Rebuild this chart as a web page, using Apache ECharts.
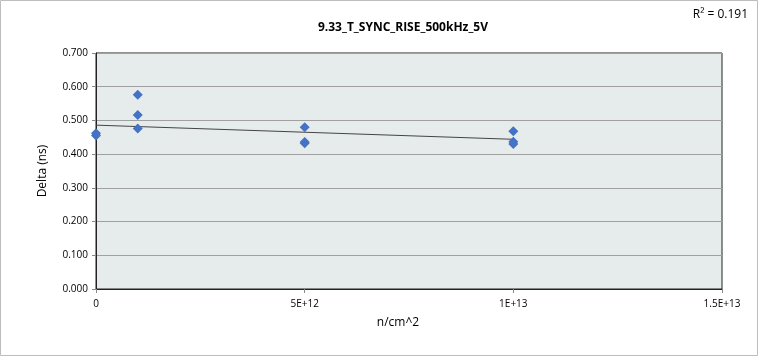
<!DOCTYPE html>
<html><head><meta charset="utf-8">
<script src="https://cdn.jsdelivr.net/npm/echarts@6/dist/echarts.min.js"></script>
<style>html,body{margin:0;padding:0;background:#fff}#c{width:759px;height:359px}</style>
</head><body><div id="c"></div>
<script>
const xValues = [0, 0, 1e12, 1e12, 1e12, 5e12, 5e12, 5e12, 1e13, 1e13, 1e13];
const yValues = [0.455, 0.462, 0.576, 0.516, 0.476, 0.480, 0.436, 0.432, 0.468, 0.437, 0.430];
const trendX = [0, 1e13];
const trendY = [0.486, 0.444];
const xTickLabels = {"0": "0", "5000000000000": "5E+12", "10000000000000": "1E+13", "15000000000000": "1.5E+13"};
const yTicks = [0, 0.1, 0.2, 0.3, 0.4, 0.5, 0.6, 0.7];
const titleText = "9.33_T_SYNC_RISE_500kHz_5V";
const r2Text = "R² = 0.191";

const font = "'Open Sans', 'Noto Sans', sans-serif";
const chart = echarts.init(document.getElementById('c'));
chart.setOption({
  animation: false,
  backgroundColor: '#fff',
  title: [
    {text: titleText, left: 398, top: 17, textAlign: 'center',
     textStyle: {fontFamily: font, fontSize: 12, fontWeight: 'bold', color: '#000'}},
    {text: r2Text, right: 6, top: 4,
     textStyle: {fontFamily: font, fontSize: 12, fontWeight: 'normal', color: '#000'}}
  ],
  graphic: [{type: 'rect', shape: {x: 0.5, y: 0.5, width: 757, height: 355},
    style: {fill: 'none', stroke: '#bdbdbd', lineWidth: 1}, silent: true}],
  grid: {left: 96, right: 37, top: 53, bottom: 70, show: true, backgroundColor: '#e6ebeb',
    borderColor: '#222', borderWidth: 1},
  xAxis: {type: 'value', min: 0, max: 1.5e13, interval: 5e12,
    name: 'n/cm^2', nameLocation: 'middle', nameGap: 28,
    nameTextStyle: {fontFamily: font, fontSize: 12, color: '#000', padding: [0, 22, 0, 0]},
    axisLine: {show: true, lineStyle: {color: '#222'}},
    axisTick: {show: true, length: 4, lineStyle: {color: '#888'}},
    axisLabel: {fontFamily: font, fontSize: 10, color: '#000', margin: 10,
      formatter: v => xTickLabels[String(v)] ?? ''},
    splitLine: {show: false}},
  yAxis: {type: 'value', min: yTicks[0], max: yTicks[yTicks.length - 1], interval: 0.1,
    name: 'Delta (ns)', nameLocation: 'middle', nameGap: 47,
    nameTextStyle: {fontFamily: font, fontSize: 12, color: '#000'},
    axisLine: {show: true, lineStyle: {color: '#222'}},
    axisTick: {show: true, length: 4, lineStyle: {color: '#888'}},
    axisLabel: {fontFamily: font, fontSize: 10, color: '#000', margin: 8,
      formatter: v => v.toFixed(3)},
    splitLine: {show: true, lineStyle: {color: '#a0a0a0', width: 1}}},
  series: [
    {type: 'line', data: trendX.map((x, i) => [x, trendY[i]]), symbol: 'none',
     lineStyle: {color: '#444', width: 1}, z: 2},
    {type: 'scatter', data: xValues.map((x, i) => [x, yValues[i]]), symbol: 'diamond',
     symbolSize: 10, itemStyle: {color: '#4472c4', opacity: 1}, z: 3}
  ]
});
</script></body></html>
